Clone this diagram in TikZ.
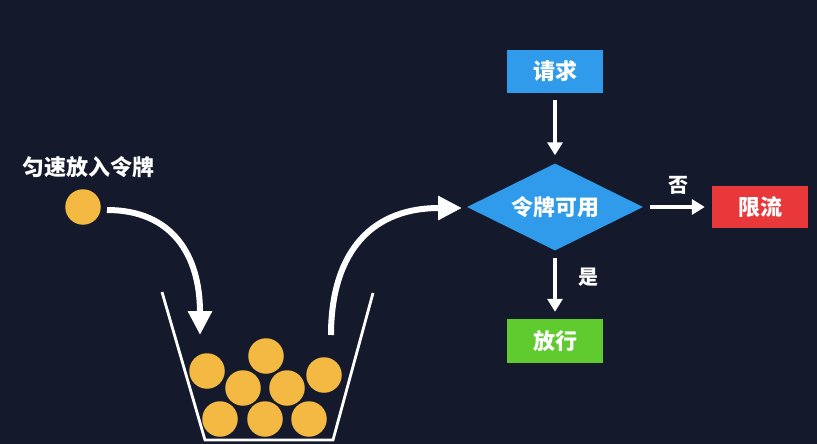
\documentclass[tikz,border=0pt]{standalone}
\usepackage{fontspec}
\setmainfont{Noto Sans CJK SC}
\usetikzlibrary{arrows.meta,shapes.geometric}
\definecolor{bg}{HTML}{141A2B}
\definecolor{ball}{HTML}{F4B942}
\definecolor{fblue}{HTML}{2F9BEA}
\definecolor{fred}{HTML}{E8383A}
\definecolor{fgreen}{HTML}{5FCB2E}
\tikzset{
  token/.style={circle,fill=ball,minimum size=35.5pt,inner sep=0pt},
  bigarrow/.style={white,line width=6pt,-{Triangle[width=23pt,length=24pt]}},
  flowarrow/.style={white,line width=4pt,-{Triangle[width=15pt,length=13pt]},shorten <=7pt,shorten >=7pt},
  box/.style={rectangle,minimum width=96pt,minimum height=43pt,inner sep=0pt,text=white,font=\fontsize{22pt}{26pt}\selectfont\bfseries},
  lbl/.style={text=white,inner sep=0pt,font=\fontsize{20pt}{24pt}\selectfont\bfseries}
}
\begin{document}
\begin{tikzpicture}[x=1pt,y=-1pt]
\fill[bg] (0,0) rectangle (817,444);
\useasboundingbox (0,0) rectangle (817,444);
% left label and single token
\node[lbl,font=\fontsize{22pt}{26pt}\selectfont\bfseries] (title) at (89,167) {匀速放入令牌};
\node[token] (t0) at (83,207) {};
% bucket
\draw[white,line width=2.8pt] (162,292) -- (205,440) -- (333,440) -- (373,293);
% tokens in bucket
\node[token] (t1) at (207,371) {};
\node[token] (t2) at (266,356) {};
\node[token] (t3) at (324,375) {};
\node[token] (t4) at (243,388) {};
\node[token] (t5) at (287,388) {};
\node[token] (t6) at (220,419) {};
\node[token] (t7) at (265,419) {};
\node[token] (t8) at (309,419) {};
% curved arrows
\coordinate (a1s) at (107,210);
\coordinate (a1e) at (200,335);
\draw[bigarrow] (a1s) .. controls (172,210) and (200,255) .. (a1e);
\coordinate (a2s) at (331,335);
\coordinate (a2e) at (462,208);
\draw[bigarrow] (a2s) .. controls (331,260) and (365,208) .. (a2e);
% flowchart
\node[box,fill=fblue] (req) at (555,71.5) {请求};
\node[diamond,aspect=2,fill=fblue,minimum width=176pt,minimum height=87pt,inner sep=0pt,text=white,font=\fontsize{22pt}{26pt}\selectfont\bfseries] (dec) at (555,207) {令牌可用};
\node[box,fill=fred,minimum height=42pt] (lim) at (760,207) {限流};
\node[box,fill=fgreen,minimum height=44pt] (pass) at (555,341) {放行};
\draw[flowarrow,shorten >=8pt] (req) -- (dec);
\draw[flowarrow] (dec) -- (lim);
\draw[flowarrow] (dec) -- (pass);
\node[lbl] (no) at (678,185) {否};
\node[lbl] (yes) at (588,277) {是};
\end{tikzpicture}
\end{document}
